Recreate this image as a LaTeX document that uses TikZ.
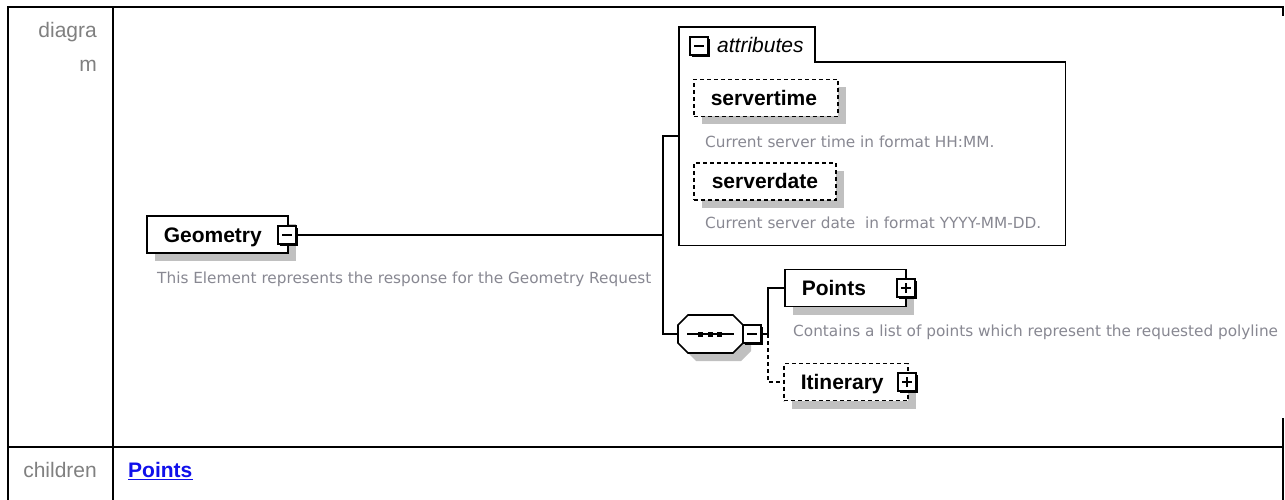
\documentclass[tikz,border=0pt]{standalone}
\usepackage{fontspec}
\setmainfont{Liberation Sans}
\newfontfamily\descfont{DejaVu Sans}
\usetikzlibrary{shadows}

\definecolor{shgray}{RGB}{192,192,192}
\definecolor{lblgray}{RGB}{128,128,128}
\definecolor{descgray}{RGB}{136,136,146}
\definecolor{linkblue}{RGB}{16,16,235}

\newcommand\labfont{\bfseries\fontsize{21}{24}\selectfont}
\newcommand\tgminus[1]{\draw[signline] ([xshift=-5pt]#1.center) -- ([xshift=5pt]#1.center);}
\newcommand\tgplus[1]{\tgminus{#1}\draw[signline] ([yshift=-5pt]#1.center) -- ([yshift=5pt]#1.center);}
% outline of the sequence compositor, shifted by (#1,#2)
\newcommand\seqpath[2]{(688+#1,315+#2) -- (733+#1,315+#2) -- (743+#1,325+#2) -- (743+#1,343+#2)
  -- (733+#1,353+#2) -- (688+#1,353+#2) -- (678+#1,343+#2) -- (678+#1,325+#2) -- cycle}

\begin{document}
\begin{tikzpicture}[x=1pt,y=-1pt,
  tableline/.style={line width=2.2pt, line join=miter},
  boxline/.style={line width=1.6pt},
  conn/.style={line width=1.4pt},
  elem/.style={draw, line width=1.6pt, fill=white, inner sep=0pt,
    text height=15pt, text depth=0pt, minimum height=37pt, font=\labfont,
    general shadow={fill=shgray, shadow xshift=8pt, shadow yshift=-8pt}},
  optelem/.style={elem, dash pattern=on 4pt off 3pt},
  togbox/.style={draw, fill=white, line width=1.3pt, minimum size=18pt, inner sep=0pt,
    general shadow={fill=black, shadow xshift=1.6pt, shadow yshift=-1.6pt}},
  signline/.style={line width=1.3pt},
  desc/.style={font=\descfont\fontsize{15.3}{18}\selectfont, text=descgray,
    inner sep=0pt, anchor=base west},
  lefttext/.style={font=\fontsize{21}{24}\selectfont, text=lblgray,
    inner sep=0pt, anchor=base east}]

\useasboundingbox (0,0) rectangle (1285,500);
\fill[white] (0,0) rectangle (1285,500);

% table grid
\draw[tableline] (8,500) -- (8,7) -- (1283,7) -- (1283,16);
\draw[tableline] (113,7) -- (113,500);
\draw[tableline] (8,447) -- (1283,447);
\draw[tableline] (1283,418) -- (1283,500);

% row headings
\node[lefttext] (hdiag) at (97,38) {diagra};
\node[lefttext] (hdiagm) at (97,71.5) {m};
\node[lefttext] (hchild) at (97,477) {children};
\node[font=\labfont, text=linkblue, inner sep=0pt, anchor=base west] (childlink) at (128,477) {Points};
\draw[linkblue, line width=1.6pt] ([yshift=-2.5pt]childlink.base west) -- ([yshift=-2.5pt]childlink.base east);

% root element
\node[elem, anchor=west] (geom) at (146,234.5) {\makebox[141pt][l]{\hspace{17pt}Geometry}};
\node[togbox] (gtog) at (287,235) {};
\tgminus{gtog}
\node[desc] (gdesc) at (157,283) {This Element represents the response for the Geometry Request};

% attribute group
\node[inner sep=0pt, minimum width=386pt, minimum height=218pt, anchor=north west] (attrs) at (679,27) {};
\coordinate (tabne) at (815,27);
\coordinate (tabse) at (815,62);
\draw[boxline] (attrs.south west) -- (attrs.north west) -- (tabne) -- (tabse)
  -- (attrs.east |- tabse) -- (attrs.south east) -- cycle;
\node[togbox] (atog) at (699,46) {};
\tgminus{atog}
\node[font=\itshape\fontsize{21}{24}\selectfont, inner sep=0pt, anchor=base west] (attrlbl) at (717,53) {attributes};

\node[optelem, anchor=west] (stime) at (693,98) {\makebox[144pt][l]{\hspace{17pt}servertime}};
\node[desc] (stdesc) at (705,147) {Current server time in format HH:MM.};
\node[optelem, anchor=west] (sdate) at (693,181.5) {\makebox[142pt][l]{\hspace{18pt}serverdate}};
\node[desc] (sddesc) at (705,228) {Current server date~ in format YYYY-MM-DD.};

% sequence compositor
\fill[shgray] \seqpath{8}{8};
\draw[boxline, fill=white] \seqpath{0}{0};
\node[inner sep=0pt, minimum width=65pt, minimum height=38pt] (seq) at (710.5,334) {};
\draw[line width=1.3pt] (687,334) -- (734,334);
\foreach \dx in {698,707.5,717} \fill (\dx,331.5) rectangle ++(5,5);
\node[togbox] (stog) at (752,334) {};
\tgminus{stog}

% children of the sequence
\node[elem, anchor=west] (points) at (784,288) {\makebox[121pt][l]{\hspace{17pt}Points}};
\node[togbox] (ptog) at (906,288) {};
\tgplus{ptog}
\node[desc] (pdesc) at (793,336) {Contains a list of points which represent the requested polyline};

\node[optelem, anchor=west] (itin) at (783,382) {\makebox[124pt][l]{\hspace{17pt}Itinerary}};
\node[togbox] (itog) at (907,382) {};
\tgplus{itog}

% connectors
\coordinate (j1) at (663,235);
\coordinate (j2) at (768,334);
\draw[conn] (gtog.east) -- (j1);
\draw[conn] (j1) |- (attrs.west);
\draw[conn] (j1) |- (seq.west);
\draw[conn] (stog.east) -- (j2);
\draw[conn] (j2) |- (points.west);
\draw[conn, dash pattern=on 4pt off 3pt] (j2) |- (itin.west);
\end{tikzpicture}
\end{document}
